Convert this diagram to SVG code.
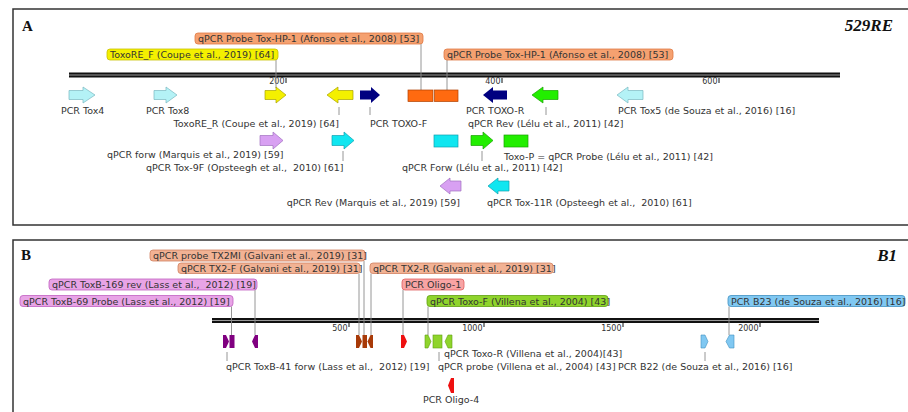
<svg xmlns="http://www.w3.org/2000/svg" width="908" height="412" viewBox="0 0 908 412">
<style>
.lbl{font-family:"DejaVu Sans",Verdana,sans-serif;font-size:9.5px;fill:#333;white-space:pre}
.tk{font-family:"DejaVu Sans",Verdana,sans-serif;font-size:8px;fill:#333}
.pn{font-family:"Liberation Serif",serif;font-size:15px;font-weight:bold;fill:#111}
.gn{font-family:"Liberation Serif",serif;font-size:17px;font-weight:bold;font-style:italic;fill:#111}
.conn{stroke:#8a8a8a;stroke-width:0.9;fill:none}
.tick{stroke:#111;stroke-width:1}
.frame{fill:#fff;stroke:#333;stroke-width:1.5}
.box{stroke-width:0.8}
</style>
<rect x="0" y="0" width="908" height="412" fill="#fff"/>
<!-- panels -->
<rect class="frame" x="13" y="9" width="905" height="216"/>
<rect class="frame" x="13" y="240" width="905" height="190"/>
<text class="pn" x="22" y="31">A</text>
<text class="gn" x="893" y="31" text-anchor="end">529RE</text>
<text class="pn" x="21" y="260">B</text>
<text class="gn" x="897" y="261" text-anchor="end">B1</text>

<!-- sequence A -->
<g id="seqA">
<rect x="69" y="72.5" width="771" height="5" fill="#111"/>
<line x1="69" y1="75" x2="840" y2="75" stroke="#999" stroke-width="1"/>
<line class="tick" x1="286" y1="78" x2="286" y2="83"/><text class="tk" x="284.5" y="84" text-anchor="end">200</text>
<line class="tick" x1="502" y1="78" x2="502" y2="83"/><text class="tk" x="500.5" y="84" text-anchor="end">400</text>
<line class="tick" x1="719" y1="78" x2="719" y2="83"/><text class="tk" x="717.5" y="84" text-anchor="end">600</text>
</g>

<!-- sequence B -->
<g id="seqB">
<rect x="212" y="318" width="607" height="5" fill="#111"/>
<line x1="212" y1="320.5" x2="819" y2="320.5" stroke="#999" stroke-width="1"/>
<line class="tick" x1="349" y1="322" x2="349" y2="327"/><text class="tk" x="347.5" y="331" text-anchor="end">500</text>
<line class="tick" x1="484" y1="322" x2="484" y2="327"/><text class="tk" x="482.5" y="331" text-anchor="end">1000</text>
<line class="tick" x1="623" y1="322" x2="623" y2="327"/><text class="tk" x="621.5" y="331" text-anchor="end">1500</text>
<line class="tick" x1="760" y1="322" x2="760" y2="327"/><text class="tk" x="758.5" y="331" text-anchor="end">2000</text>
</g>

<!-- connectors -->
<g id="connectors">
<line class="conn" x1="421" y1="44" x2="421" y2="90"/>
<line class="conn" x1="276" y1="60" x2="276" y2="88"/>
<line class="conn" x1="447" y1="60" x2="447" y2="90"/>
<line class="conn" x1="339" y1="107" x2="339" y2="115"/>
<line class="conn" x1="370" y1="107" x2="370" y2="115"/>
<line class="conn" x1="546" y1="107" x2="546" y2="115"/>
<line class="conn" x1="343" y1="151" x2="343" y2="161"/>
<line class="conn" x1="482" y1="151" x2="482" y2="161"/>
<line class="conn" x1="364" y1="261" x2="364" y2="335"/>
<line class="conn" x1="359" y1="273.5" x2="359" y2="335"/>
<line class="conn" x1="371" y1="273.5" x2="371" y2="335"/>
<line class="conn" x1="403" y1="290" x2="403" y2="335"/>
<line class="conn" x1="428" y1="306.5" x2="428" y2="335"/>
<line class="conn" x1="255" y1="290" x2="255" y2="335"/>
<line class="conn" x1="231.5" y1="306.5" x2="231.5" y2="335"/>
<line class="conn" x1="729" y1="306.5" x2="729" y2="335"/>
<line class="conn" x1="227" y1="352" x2="227" y2="361"/>
<line class="conn" x1="439" y1="352" x2="439" y2="361"/>
<line class="conn" x1="705" y1="352" x2="705" y2="361"/>
</g>

<!-- panel A label boxes -->
<g id="boxA1"><rect class="box" x="195" y="33" width="228" height="11" rx="3" fill="#f5a170" stroke="#e07a44"/><text class="lbl" x="198" y="42">qPCR Probe Tox-HP-1 (Afonso et al., 2008) [53]</text></g>
<g id="boxA2"><rect class="box" x="107" y="49" width="171" height="11" rx="3" fill="#f4f000" stroke="#c8c000"/><text class="lbl" x="110" y="58">ToxoRE_F (Coupe et al., 2019) [64]</text></g>
<g id="boxA3"><rect class="box" x="444" y="49" width="229" height="11" rx="3" fill="#f5a170" stroke="#e07a44"/><text class="lbl" x="447" y="58">qPCR Probe Tox-HP-1 (Afonso et al., 2008) [53]</text></g>

<!-- panel A features -->
<g id="tox4"><polygon points="69,90.5 83,90.5 83,87 95,95 83,103 83,99.5 69,99.5" fill="#b4f2f6" stroke="#7ab8c0" stroke-width="0.7"/><text class="lbl" x="61" y="114">PCR Tox4</text></g>
<g id="tox8"><polygon points="154,90.5 166,90.5 166,87 177,95 166,103 166,99.5 154,99.5" fill="#b4f2f6" stroke="#7ab8c0" stroke-width="0.7"/><text class="lbl" x="146" y="114">PCR Tox8</text></g>
<g id="toxoreF"><polygon points="265,90.5 276,90.5 276,87 286,95 276,103 276,99.5 265,99.5" fill="#f4f000" stroke="#a8a000" stroke-width="0.7"/></g>
<g id="toxoreR"><polygon points="327,95 338,87 338,90.5 353,90.5 353,99.5 338,99.5 338,103" fill="#f4f000" stroke="#a8a000" stroke-width="0.7"/><text class="lbl" x="339" y="127" text-anchor="end">ToxoRE_R (Coupe et al., 2019) [64]</text></g>
<g id="toxoF"><polygon points="360,90.5 371,90.5 371,87 380,95 371,103 371,99.5 360,99.5" fill="#000080"/><text class="lbl" x="370" y="127">PCR TOXO-F</text></g>
<g id="probeHP1"><rect x="408" y="90" width="25" height="11.5" fill="#ff6a10" stroke="#b04000" stroke-width="0.7"/></g>
<g id="probeHP1b"><rect x="434.5" y="90" width="23.5" height="11.5" fill="#ff6a10" stroke="#b04000" stroke-width="0.7"/></g>
<g id="toxoR"><polygon points="483,95 493,87 493,90.5 507,90.5 507,99.5 493,99.5 493,103" fill="#000080"/><text class="lbl" x="466" y="114">PCR TOXO-R</text></g>
<g id="leluRev"><polygon points="532,95 543,87 543,90.5 558,90.5 558,99.5 543,99.5 543,103" fill="#22ee00" stroke="#18a000" stroke-width="0.7"/><text class="lbl" x="468" y="127">qPCR Rev (Lélu et al., 2011) [42]</text></g>
<g id="tox5"><polygon points="617,95 628,87 628,90.5 643,90.5 643,99.5 628,99.5 628,103" fill="#b4f2f6" stroke="#7ab8c0" stroke-width="0.7"/><text class="lbl" x="618" y="114">PCR Tox5 (de Souza et al., 2016) [16]</text></g>

<g id="marquisF"><polygon points="260,135.5 273,135.5 273,132 283,140.5 273,149 273,145.5 260,145.5" fill="#d8a0f2" stroke="#a070c0" stroke-width="0.7"/><text class="lbl" x="107" y="157.5">qPCR forw (Marquis et al., 2019) [59]</text></g>
<g id="tox9F"><polygon points="332,135.5 344,135.5 344,132 354,140.5 344,149 344,145.5 332,145.5" fill="#10e6f0" stroke="#10a0b0" stroke-width="0.7"/><text class="lbl" x="146" y="170.5">qPCR Tox-9F (Opsteegh et al.,  2010) [61]</text></g>
<g id="toxProbeC"><rect x="434" y="135" width="24" height="12" fill="#10e6f0" stroke="#10a0b0" stroke-width="0.7"/></g>
<g id="leluF"><polygon points="471,135.5 483,135.5 483,132 493,140.5 483,149 483,145.5 471,145.5" fill="#22ee00" stroke="#18a000" stroke-width="0.7"/><text class="lbl" x="402" y="171">qPCR Forw (Lélu et al., 2011) [42]</text></g>
<g id="toxoP"><rect x="504" y="135" width="24" height="12" fill="#22ee00" stroke="#18a000" stroke-width="0.7"/><text class="lbl" x="504" y="160">Toxo-P = qPCR Probe (Lélu et al., 2011) [42]</text></g>

<g id="marquisR"><polygon points="440,186 450,178 450,181 461,181 461,191 450,191 450,194" fill="#d8a0f2" stroke="#a070c0" stroke-width="0.7"/><text class="lbl" x="460" y="205.5" text-anchor="end">qPCR Rev (Marquis et al., 2019) [59]</text></g>
<g id="tox11R"><polygon points="488,186 498,178 498,181 509,181 509,191 498,191 498,194" fill="#10e6f0" stroke="#10a0b0" stroke-width="0.7"/><text class="lbl" x="487" y="205.5">qPCR Tox-11R (Opsteegh et al.,  2010) [61]</text></g>

<!-- panel B label boxes -->
<g id="boxTX2MI"><rect class="box" x="150" y="250" width="215" height="11" rx="3" fill="#f2b294" stroke="#d08060"/><text class="lbl" x="153" y="259">qPCR probe TX2MI (Galvani et al., 2019) [31]</text></g>
<g id="boxTX2F"><rect class="box" x="178" y="263" width="182" height="10.5" rx="3" fill="#f2b294" stroke="#d08060"/><text class="lbl" x="181" y="271.5">qPCR TX2-F (Galvani et al., 2019) [31]</text></g>
<g id="boxTX2R"><rect class="box" x="370" y="263" width="183" height="10.5" rx="3" fill="#f2b294" stroke="#d08060"/><text class="lbl" x="373" y="271.5">qPCR TX2-R (Galvani et al., 2019) [31]</text></g>
<g id="boxToxB169"><rect class="box" x="49" y="279" width="208" height="11" rx="3" fill="#e8a4e6" stroke="#c060c0"/><text class="lbl" x="52" y="288">qPCR ToxB-169 rev (Lass et al.,  2012) [19]</text></g>
<g id="boxOligo1"><rect class="box" x="402" y="279" width="62" height="11" rx="3" fill="#f8a4a4" stroke="#e06060"/><text class="lbl" x="405" y="288">PCR Oligo-1</text></g>
<g id="boxToxB69"><rect class="box" x="20" y="295.5" width="213" height="11" rx="3" fill="#e8a4e6" stroke="#c060c0"/><text class="lbl" x="23" y="304.5">qPCR ToxB-69 Probe (Lass et al., 2012) [19]</text></g>
<g id="boxToxoF"><rect class="box" x="427" y="295.5" width="181" height="11" rx="3" fill="#8fd42c" stroke="#60a010"/><text class="lbl" x="430" y="304.5">qPCR Toxo-F (Villena et al., 2004) [43]</text></g>
<g id="boxB23"><rect class="box" x="728" y="295.5" width="177" height="11" rx="3" fill="#80c8f2" stroke="#4090c0"/><text class="lbl" x="731" y="304.5">PCR B23 (de Souza et al., 2016) [16]</text></g>

<!-- panel B features -->
<g id="toxB41"><polygon points="223,335 226,335 229,341.5 226,348 223,348" fill="#800080"/><rect x="229.5" y="335" width="5" height="13" fill="#800080"/><text class="lbl" x="226" y="370">qPCR ToxB-41 forw (Lass et al.,  2012) [19]</text></g>
<g id="toxB169"><polygon points="252,341.5 255,335 258,335 258,348 255,348" fill="#800080"/></g>
<g id="tx2"><polygon points="356,335 359,335 362,341.5 359,348 356,348" fill="#a83a08"/><rect x="362.5" y="335" width="4.5" height="13" fill="#a83a08"/><polygon points="367.5,341.5 370.5,335 373,335 373,348 370.5,348" fill="#a83a08"/></g>
<g id="oligo1"><polygon points="401,335 404,335 407,341.5 404,348 401,348" fill="#ee1010"/></g>
<g id="villena"><polygon points="425,335 428,335 431,341.5 428,348 425,348" fill="#8fd42c" stroke="#60a010" stroke-width="0.6"/><rect x="433" y="335" width="9" height="13" fill="#8fd42c" stroke="#60a010" stroke-width="0.6"/><polygon points="445,341.5 448,335 452,335 452,348 448,348" fill="#8fd42c" stroke="#60a010" stroke-width="0.6"/><text class="lbl" x="444" y="357">qPCR Toxo-R (Villena et al., 2004)[43]</text><text class="lbl" x="438" y="370">qPCR probe (Villena et al., 2004) [43]</text></g>
<g id="oligo4"><polygon points="448,385.5 451,378 454,378 454,393 451,393" fill="#ee1010"/><text class="lbl" x="423" y="403">PCR Oligo-4</text></g>
<g id="b22"><polygon points="701,335 705,335 708,341.5 705,348 701,348" fill="#80c8f2" stroke="#4090c0" stroke-width="0.6"/><text class="lbl" x="618" y="370">PCR B22 (de Souza et al., 2016) [16]</text></g>
<g id="b23"><polygon points="726,341.5 729.5,335 734,335 734,348 729.5,348" fill="#80c8f2" stroke="#4090c0" stroke-width="0.6"/></g>
</svg>
